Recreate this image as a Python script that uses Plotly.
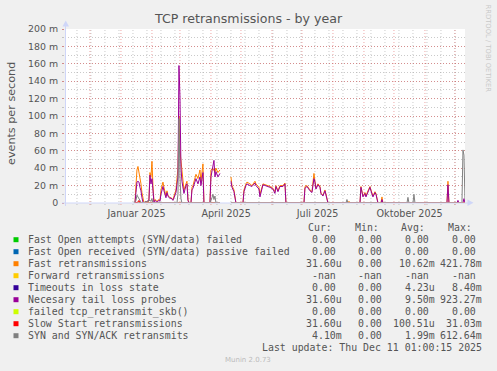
import plotly.graph_objects as go
import pandas as pd

# ---------------- data ----------------
x_start = "2024-11-06 01:00:15"
x_end = "2025-12-11 01:00:15"

label_dates = ["2025-01-16 16:00", "2025-04-16 04:00", "2025-07-16 16:00", "2025-10-16 16:00"]
label_text = ["Januar 2025", "April 2025", "Juli 2025", "Oktober 2025"]

y_tick_vals = [0, 20, 40, 60, 80, 100, 120, 140, 160, 180, 200]
y_tick_text = ["0", "20 m", "40 m", "60 m", "80 m", "100 m", "120 m", "140 m", "160 m", "180 m", "200 m"]

GAP = (None, None)

fast_retrans = [
    ("2025-01-14", 0), ("2025-01-15", 0), ("2025-01-16", 20), ("2025-01-17", 38), ("2025-01-18", 42),
    ("2025-01-19", 36), ("2025-01-20", 28), ("2025-01-21", 22), ("2025-01-22", 12), ("2025-01-23", 3),
    ("2025-01-24", 0), ("2025-01-26", 2), ("2025-01-28", 0), ("2025-01-29", 5), ("2025-01-30", 35),
    ("2025-01-31", 30), ("2025-02-01", 48), ("2025-02-02", 20), ("2025-02-03", 2), ("2025-02-04", 4),
    ("2025-02-06", 2), ("2025-02-08", 4), ("2025-02-09", 3), ("2025-02-10", 15), ("2025-02-12", 24),
    ("2025-02-13", 18), ("2025-02-15", 8), ("2025-02-16", 14), ("2025-02-17", 9), ("2025-02-19", 6),
    ("2025-02-20", 6), ("2025-02-22", 4), ("2025-02-24", 10), ("2025-02-25", 15), ("2025-02-27", 40),
    ("2025-02-28", 100), ("2025-03-01", 60), ("2025-03-03", 35), ("2025-03-04", 25), ("2025-03-05", 15),
    ("2025-03-07", 22), ("2025-03-08", 25), ("2025-03-09", 4), ("2025-03-10", 0), ("2025-03-12", 0),
    ("2025-03-13", 18), ("2025-03-14", 20), ("2025-03-16", 30), ("2025-03-17", 33), ("2025-03-19", 28),
    ("2025-03-21", 38), ("2025-03-22", 25), ("2025-03-24", 45), ("2025-03-25", 0), ("2025-03-31", 0),
    ("2025-04-01", 38), ("2025-04-03", 40), ("2025-04-05", 35), ("2025-04-06", 40), ("2025-04-08", 35),
    ("2025-04-10", 38), GAP,
    ("2025-04-21", 30), ("2025-04-22", 20), ("2025-04-24", 15), ("2025-04-25", 8), ("2025-04-26", 0),
    ("2025-05-03", 0), ("2025-05-04", 15), ("2025-05-06", 22), ("2025-05-07", 24), ("2025-05-10", 22),
    ("2025-05-12", 20), ("2025-05-15", 25), ("2025-05-16", 22), ("2025-05-19", 18), ("2025-05-20", 10),
    ("2025-05-23", 22), ("2025-05-26", 21), ("2025-05-30", 19), ("2025-06-02", 17), ("2025-06-04", 13),
    ("2025-06-05", 20), ("2025-06-07", 14), ("2025-06-09", 20), ("2025-06-10", 20), ("2025-06-12", 20),
    ("2025-06-14", 23), ("2025-06-15", 0), ("2025-07-03", 0), ("2025-07-04", 19), ("2025-07-06", 20),
    ("2025-07-08", 16), ("2025-07-09", 15), ("2025-07-11", 13), ("2025-07-13", 34), ("2025-07-14", 25),
    ("2025-07-15", 17), ("2025-07-17", 22), ("2025-07-19", 19), ("2025-07-20", 11), ("2025-07-22", 9),
    ("2025-07-24", 15), ("2025-07-25", 9), ("2025-07-27", 0), ("2025-08-16", 0), ("2025-08-17", 2),
    ("2025-08-18", 0), ("2025-08-28", 0), ("2025-08-29", 19), ("2025-08-31", 8), ("2025-09-02", 12),
    ("2025-09-03", 8), ("2025-09-05", 14), ("2025-09-07", 19), ("2025-09-08", 15), ("2025-09-10", 8),
    ("2025-09-12", 13), ("2025-09-13", 11), ("2025-09-15", 0), ("2025-09-18", 0), ("2025-09-19", 7),
    ("2025-09-20", 0), ("2025-11-23", 0), ("2025-11-24", 25), ("2025-11-25", 0), ("2025-12-11", 0.03),
]

tail_loss_probes = [
    ("2025-01-14", 0), ("2025-01-15", 0), ("2025-01-16", 12), ("2025-01-17", 24), ("2025-01-18", 25),
    ("2025-01-19", 24), ("2025-01-20", 18), ("2025-01-21", 14), ("2025-01-22", 6), ("2025-01-23", 1),
    ("2025-01-24", 0), ("2025-01-29", 3), ("2025-01-30", 32), ("2025-01-31", 22), ("2025-02-01", 28),
    ("2025-02-02", 8), ("2025-02-03", 1), ("2025-02-04", 3), ("2025-02-06", 1), ("2025-02-08", 3),
    ("2025-02-09", 2), ("2025-02-10", 10), ("2025-02-12", 19), ("2025-02-13", 14), ("2025-02-15", 6),
    ("2025-02-16", 12), ("2025-02-17", 8), ("2025-02-19", 5), ("2025-02-20", 6), ("2025-02-22", 3),
    ("2025-02-24", 8), ("2025-02-25", 12), ("2025-02-27", 30), ("2025-02-28", 158), ("2025-03-01", 122),
    ("2025-03-02", 40), ("2025-03-03", 25), ("2025-03-04", 18), ("2025-03-05", 11), ("2025-03-07", 20),
    ("2025-03-08", 22), ("2025-03-09", 3), ("2025-03-10", 0), ("2025-03-12", 0), ("2025-03-13", 15),
    ("2025-03-14", 17), ("2025-03-16", 24), ("2025-03-17", 28), ("2025-03-19", 22), ("2025-03-21", 30),
    ("2025-03-22", 20), ("2025-03-24", 35), ("2025-03-25", 0), ("2025-03-31", 0), ("2025-04-01", 30),
    ("2025-04-03", 45), ("2025-04-04", 49), ("2025-04-05", 30), ("2025-04-06", 36), ("2025-04-08", 30),
    ("2025-04-10", 34), GAP,
    ("2025-04-21", 25), ("2025-04-22", 18), ("2025-04-24", 13), ("2025-04-25", 6), ("2025-04-26", 0),
    ("2025-05-03", 0), ("2025-05-04", 13), ("2025-05-06", 20), ("2025-05-07", 22), ("2025-05-10", 20),
    ("2025-05-12", 19), ("2025-05-15", 23), ("2025-05-16", 20), ("2025-05-19", 16), ("2025-05-20", 7),
    ("2025-05-23", 21), ("2025-05-26", 20), ("2025-05-30", 18), ("2025-06-02", 16), ("2025-06-04", 11),
    ("2025-06-05", 19), ("2025-06-07", 13), ("2025-06-09", 19), ("2025-06-10", 19), ("2025-06-12", 19),
    ("2025-06-14", 22), ("2025-06-15", 0), ("2025-07-03", 0), ("2025-07-04", 17), ("2025-07-06", 19),
    ("2025-07-08", 15), ("2025-07-09", 14), ("2025-07-11", 12), ("2025-07-13", 28), ("2025-07-14", 24),
    ("2025-07-15", 16), ("2025-07-17", 21), ("2025-07-19", 18), ("2025-07-20", 11), ("2025-07-22", 8),
    ("2025-07-24", 14), ("2025-07-25", 8), ("2025-07-27", 0), ("2025-08-28", 0), ("2025-08-29", 18),
    ("2025-08-31", 7), ("2025-09-02", 11), ("2025-09-03", 7), ("2025-09-05", 13), ("2025-09-07", 18),
    ("2025-09-08", 14), ("2025-09-10", 7), ("2025-09-12", 12), ("2025-09-13", 10), ("2025-09-15", 0),
    ("2025-09-18", 0), ("2025-09-19", 4), ("2025-09-20", 0), ("2025-11-23", 0), ("2025-11-24", 21),
    ("2025-11-25", 0), ("2025-12-03", 0), ("2025-12-04", 3), ("2025-12-05", 0), ("2025-12-09", 0),
    ("2025-12-10", 5), ("2025-12-11", 0.03),
]

syn_retransmits = [
    ("2025-01-14", 0), ("2025-01-16", 3), ("2025-01-17", 9), ("2025-01-18", 7), ("2025-01-19", 4),
    ("2025-01-21", 1), ("2025-01-22", 0), ("2025-01-30", 3), ("2025-01-31", 2), ("2025-02-01", 5),
    ("2025-02-02", 0), ("2025-02-26", 0), ("2025-02-27", 10), ("2025-02-28", 97), ("2025-03-01", 30),
    ("2025-03-02", 5), ("2025-03-03", 0), ("2025-03-31", 0), ("2025-04-02", 6), ("2025-04-03", 10),
    ("2025-04-04", 4), ("2025-04-05", 8), ("2025-04-06", 0), ("2025-04-10", 0), GAP,
    ("2025-04-21", 0), ("2025-08-14", 0), ("2025-08-15", 4), ("2025-08-16", 0), ("2025-10-14", 0),
    ("2025-10-15", 6.5), ("2025-10-16", 0), ("2025-10-20", 0), ("2025-10-21", 10), ("2025-10-22", 0),
    ("2025-12-08", 0), ("2025-12-09", 61), ("2025-12-10", 55), ("2025-12-11", 4.1),
]

slow_start = [
    ("2025-01-14", 0), ("2025-01-18", 1), ("2025-01-19", 3), ("2025-01-20", 0), ("2025-04-10", 0), GAP,
    ("2025-04-21", 0), ("2025-12-11", 0.03),
]

zero_series = [("2025-01-14", 0), ("2025-04-10", 0), GAP, ("2025-04-21", 0), ("2025-12-11", 0)]

legend_names = [
    "Fast Open attempts (SYN/data) failed",
    "Fast Open received (SYN/data) passive failed",
    "Fast retransmissions",
    "Forward retransmissions",
    "Timeouts in loss state",
    "Necesary tail loss probes",
    "failed tcp_retransmit_skb()",
    "Slow Start retransmissions",
    "SYN and SYN/ACK retransmits",
]
legend_colors = ["#00CC00", "#0066B3", "#FF8000", "#FFCC00", "#330099", "#990099", "#CCFF00", "#FF0000", "#808080"]
cur_vals = ["0.00", "0.00", "31.60u", "-nan", "0.00", "31.60u", "0.00", "31.60u", "4.10m"]
min_vals = ["0.00", "0.00", "0.00", "-nan", "0.00", "0.00", "0.00", "0.00", "0.00"]
avg_vals = ["0.00", "0.00", "10.62m", "-nan", "4.23u", "9.50m", "0.00", "100.51u", "1.99m"]
max_vals = ["0.00", "0.00", "421.78m", "-nan", "8.40m", "923.27m", "0.00", "31.03m", "612.64m"]

series_data = [zero_series, zero_series, fast_retrans, None, zero_series, tail_loss_probes,
               zero_series, slow_start, syn_retransmits]

# ---------------- layout geometry ----------------
W, H = 497, 371
L, R, T, B = 65, 32, 29, 168
PW = W - L - R
PH = H - T - B
FONT_COL = "#555555"
AXIS_COL = "#CFD6F8"
MGRID = "rgba(222,79,79,0.5)"
GRID = "rgba(150,150,150,0.5)"
DASH = "1px,2px"


def px(xp):
    return (xp - L) / PW


def py(yp):
    return (H - B - yp) / PH


fig = go.Figure()

for name, col, data in zip(legend_names, legend_colors, series_data):
    if data is None:
        continue
    xs = [d for d, v in data]
    ys = [v for d, v in data]
    fig.add_trace(go.Scatter(x=xs, y=ys, mode="lines", name=name,
                             line=dict(color=col, width=1), connectgaps=False,
                             hoverinfo="skip", showlegend=False))

# invisible trace to activate x2 axis for labels
fig.add_trace(go.Scatter(x=[x_start, x_end], y=[None, None], xaxis="x2", showlegend=False,
                         hoverinfo="skip"))

month_starts = [d.strftime("%Y-%m-%d") for d in pd.date_range("2024-12-01", "2025-12-01", freq="MS")]
minor_dates = [d.strftime("%Y-%m-%d") for d in pd.date_range("2024-11-18", "2025-12-10", freq="14D")]

fig.update_layout(
    width=W, height=H, autosize=False,
    margin=dict(l=L, r=R, t=T, b=B, pad=0),
    paper_bgcolor="#F0F0F0", plot_bgcolor="#FFFFFF",
    font=dict(family="DejaVu Sans", color=FONT_COL, size=9.5),
    showlegend=False,
    xaxis=dict(
        type="date", range=[x_start, x_end], showline=False, zeroline=False,
        tickmode="array", tickvals=month_starts, showticklabels=False,
        ticks="", showgrid=False, fixedrange=True,
    ),
    xaxis2=dict(
        type="date", range=[x_start, x_end], overlaying="x", side="bottom", anchor="y",
        showgrid=False, zeroline=False, showline=False,
        tickmode="array", tickvals=label_dates, ticktext=label_text, ticks="",
        tickfont=dict(size=9.6, color=FONT_COL), ticklabelstandoff=3, fixedrange=True,
    ),
    yaxis=dict(
        range=[0, 200], showline=False, zeroline=False,
        tickmode="array", tickvals=y_tick_vals, ticktext=y_tick_text,
        ticks="outside", ticklen=2, tickcolor=MGRID,
        tickfont=dict(size=9.4, color=FONT_COL), ticklabelstandoff=2,
        showgrid=True, gridcolor=MGRID, gridwidth=1, griddash=DASH,
        minor=dict(dtick=10, showgrid=True, gridcolor=GRID, gridwidth=1, griddash=DASH,
                   ticks="outside", ticklen=2, tickcolor=GRID),
        fixedrange=True,
    ),
)

shapes = []
# vertical grid lines (minor every two weeks, major at month starts)
for d in minor_dates:
    shapes.append(dict(type="line", xref="x", yref="paper", x0=d, x1=d, y0=py(205), y1=1,
                       line=dict(color=GRID, width=1, dash=DASH), layer="below"))
for d in month_starts:
    shapes.append(dict(type="line", xref="x", yref="paper", x0=d, x1=d, y0=py(205), y1=1,
                       line=dict(color=MGRID, width=1, dash=DASH), layer="below"))
# axis lines
shapes.append(dict(type="line", xref="paper", yref="paper", x0=px(62), x1=px(468), y0=py(203), y1=py(203),
                   line=dict(color=AXIS_COL, width=1)))
shapes.append(dict(type="line", xref="paper", yref="paper", x0=px(65.5), x1=px(65.5), y0=py(206), y1=py(24),
                   line=dict(color=AXIS_COL, width=1)))
# arrows
shapes.append(dict(type="path", xref="paper", yref="paper",
                   path=f"M {px(62.5)} {py(26.5)} L {px(69)} {py(26.5)} L {px(65.75)} {py(20.5)} Z",
                   fillcolor=AXIS_COL, line=dict(width=0)))
shapes.append(dict(type="path", xref="paper", yref="paper",
                   path=f"M {px(467.5)} {py(199.5)} L {px(467.5)} {py(206)} L {px(473.5)} {py(202.75)} Z",
                   fillcolor=AXIS_COL, line=dict(width=0)))

ann = []
ann.append(dict(text="TCP retransmissions - by year", x=px(248.5), y=py(19), xref="paper", yref="paper",
                xanchor="center", yanchor="middle", showarrow=False,
                font=dict(size=12.6, color=FONT_COL, family="DejaVu Sans")))
ann.append(dict(text="events per second", x=px(11), y=py(114), xref="paper", yref="paper",
                xanchor="center", yanchor="middle", showarrow=False, textangle=-90,
                font=dict(size=11.2, color=FONT_COL, family="DejaVu Sans")))
ann.append(dict(text="RRDTOOL / TOBI OETIKER", x=px(487.5), y=py(4), xref="paper", yref="paper",
                xanchor="center", yanchor="top", showarrow=False, textangle=90, borderpad=0,
                font=dict(size=6.8, color="#C8C8C8", family="DejaVu Sans")))

MONO = "DejaVu Sans Mono"
LSIZE = 9.9
row_y = [239.7, 251.7, 263.7, 275.7, 287.7, 299.7, 311.7, 323.7, 335.7]
hdr_x = [307, 354, 400, 446.7]
for hx, ht in zip(hdr_x, ["Cur:", "Min:", "Avg:", "Max:"]):
    ann.append(dict(text=ht, x=px(hx), y=py(227.7), xref="paper", yref="paper", xanchor="left",
                    yanchor="middle", showarrow=False, borderpad=0, font=dict(size=LSIZE, family=MONO, color=FONT_COL)))

col_right = [343.3, 389.3, 436.3, 483.3]


def fmt(v):
    return v if v[-1] in "umk" else v + "\u00a0"


for i, name in enumerate(legend_names):
    yy = row_y[i]
    shapes.append(dict(type="rect", xref="paper", yref="paper", x0=px(13.5), x1=px(18.5),
                       y0=py(yy + 2.5), y1=py(yy - 2.5), fillcolor=legend_colors[i], line=dict(width=0)))
    ann.append(dict(text=name, x=px(26.7), y=py(yy), xref="paper", yref="paper", xanchor="left",
                    yanchor="middle", showarrow=False, borderpad=0,
                    font=dict(size=LSIZE, family=MONO, color=FONT_COL)))
    for cx, vals in zip(col_right, [cur_vals, min_vals, avg_vals, max_vals]):
        ann.append(dict(text=fmt(vals[i]), x=px(cx), y=py(yy), xref="paper", yref="paper", xanchor="right",
                        yanchor="middle", showarrow=False, borderpad=0,
                        font=dict(size=LSIZE, family=MONO, color=FONT_COL)))

ann.append(dict(text="Last update: Thu Dec 11 01:00:15 2025", x=px(483.3), y=py(347.5), xref="paper", yref="paper",
                xanchor="right", yanchor="middle", showarrow=False, borderpad=0,
                font=dict(size=LSIZE, family=MONO, color=FONT_COL)))
ann.append(dict(text="Munin 2.0.73", x=px(248), y=py(360.3), xref="paper", yref="paper",
                xanchor="center", yanchor="middle", showarrow=False, borderpad=0,
                font=dict(size=7, family="DejaVu Sans", color="#BBBBBB")))

fig.update_layout(shapes=shapes, annotations=ann)
fig.write_html("out.html", config={"displayModeBar": False, "staticPlot": True},
               post_script="document.body.style.margin='0';document.body.style.overflow='hidden';")
